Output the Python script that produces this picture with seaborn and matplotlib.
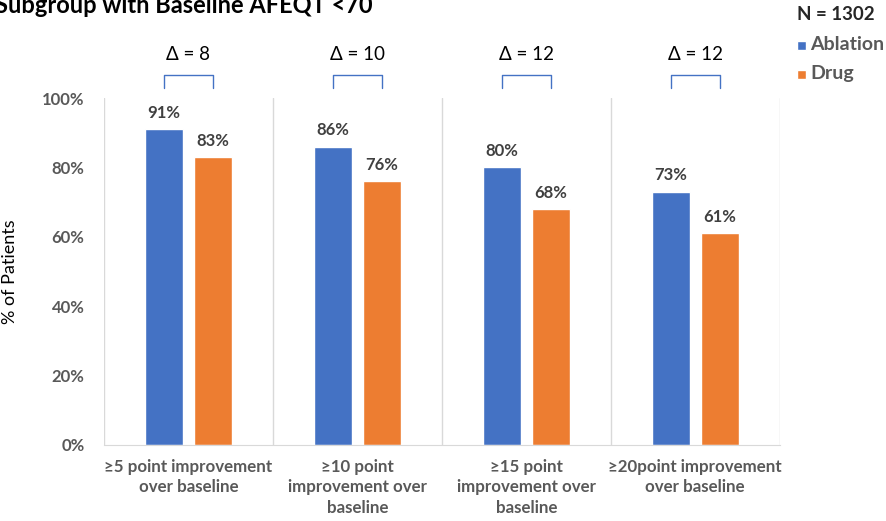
import numpy as np
import pandas as pd
import matplotlib
matplotlib.use("Agg")
import matplotlib.pyplot as plt
import seaborn as sns

# Data
categories = [
    "\u22655 point improvement\nover baseline",
    "\u226510 point\nimprovement over\nbaseline",
    "\u226515 point\nimprovement over\nbaseline",
    "\u226520point improvement\nover baseline",
]
ablation = [91, 86, 80, 73]
drug = [83, 76, 68, 61]
deltas = [8, 10, 12, 12]
series = ["Ablation", "Drug"]
colors = ["#4472C4", "#ED7D31"]

df = pd.DataFrame({
    "category": categories * 2,
    "group": ["Ablation"] * 4 + ["Drug"] * 4,
    "value": ablation + drug,
})

sns.set_style("white")
plt.rcParams["font.family"] = ["Lato", "DejaVu Sans"]

fig = plt.figure(figsize=(8.86, 5.21), dpi=100)
ax = fig.add_axes([0.1174, 0.1459, 0.7626, 0.666])

sns.barplot(data=df, x="category", y="value", hue="group", palette=colors,
            width=0.58, gap=0.224, ax=ax, legend=True, saturation=1)

ax.set_ylim(0, 100)
ax.set_xlim(-0.5, 3.5)
ax.set_yticks(np.arange(0, 101, 20))
ax.set_yticklabels([f"{v}%" for v in range(0, 101, 20)],
                   fontsize=12, fontweight="bold", color="#595959")
ax.set_xticks(range(len(categories)))
ax.set_xticklabels(categories, fontsize=12.2, fontweight="bold", color="#595959",
                   linespacing=1.35)
ax.tick_params(axis="y", length=0, pad=14)
ax.tick_params(axis="x", length=0, pad=10)
ax.set_xlabel("")
ax.set_ylabel("% of Patients", fontsize=13, color="black")
ax.yaxis.set_label_coords(-0.127, 0.5)

for s in ["top", "right", "left"]:
    ax.spines[s].set_visible(False)
ax.spines["bottom"].set_color("#D9D9D9")

# separators between groups
for x in np.arange(-0.5, 3.6, 1.0):
    ax.axvline(x, color="#D9D9D9", lw=1)

# value labels
for cont in ax.containers:
    ax.bar_label(cont, labels=[f"{int(v)}%" for v in cont.datavalues], padding=6,
                 fontsize=12, fontweight="bold", color="#404040")

# delta brackets
off = 0.145
for i, d in enumerate(deltas):
    xs = [i - off, i - off, i + off, i + off]
    ys = [102.9, 106.6, 106.6, 102.9]
    ax.plot(xs, ys, color="#4472C4", lw=1, clip_on=False)
    ax.text(i, 112.4, f"\u0394 = {d}", ha="center", va="center", fontsize=13.5,
            color="black", clip_on=False)

# legend
handles, labels = ax.get_legend_handles_labels()
ax.legend_.remove()
leg = fig.legend(handles, labels, loc="upper left", bbox_to_anchor=(0.893, 1.0),
                 frameon=False, title="N = 1302", alignment="left",
                 handlelength=0.65, handleheight=0.65, handletextpad=0.3,
                 labelspacing=0.85, borderaxespad=0)
leg.get_title().set_fontweight("bold")
leg.get_title().set_fontsize(13.5)
leg._legend_box.sep = 10
for t in leg.get_texts():
    t.set_fontweight("bold")
    t.set_fontsize(14)
    t.set_color("#595959")

fig.text(-0.006, 1 - 13 / 521, "Subgroup with Baseline AFEQT <70", fontsize=17,
         fontweight="bold", color="black", ha="left", va="baseline")

fig.savefig("out.png", dpi=100)
